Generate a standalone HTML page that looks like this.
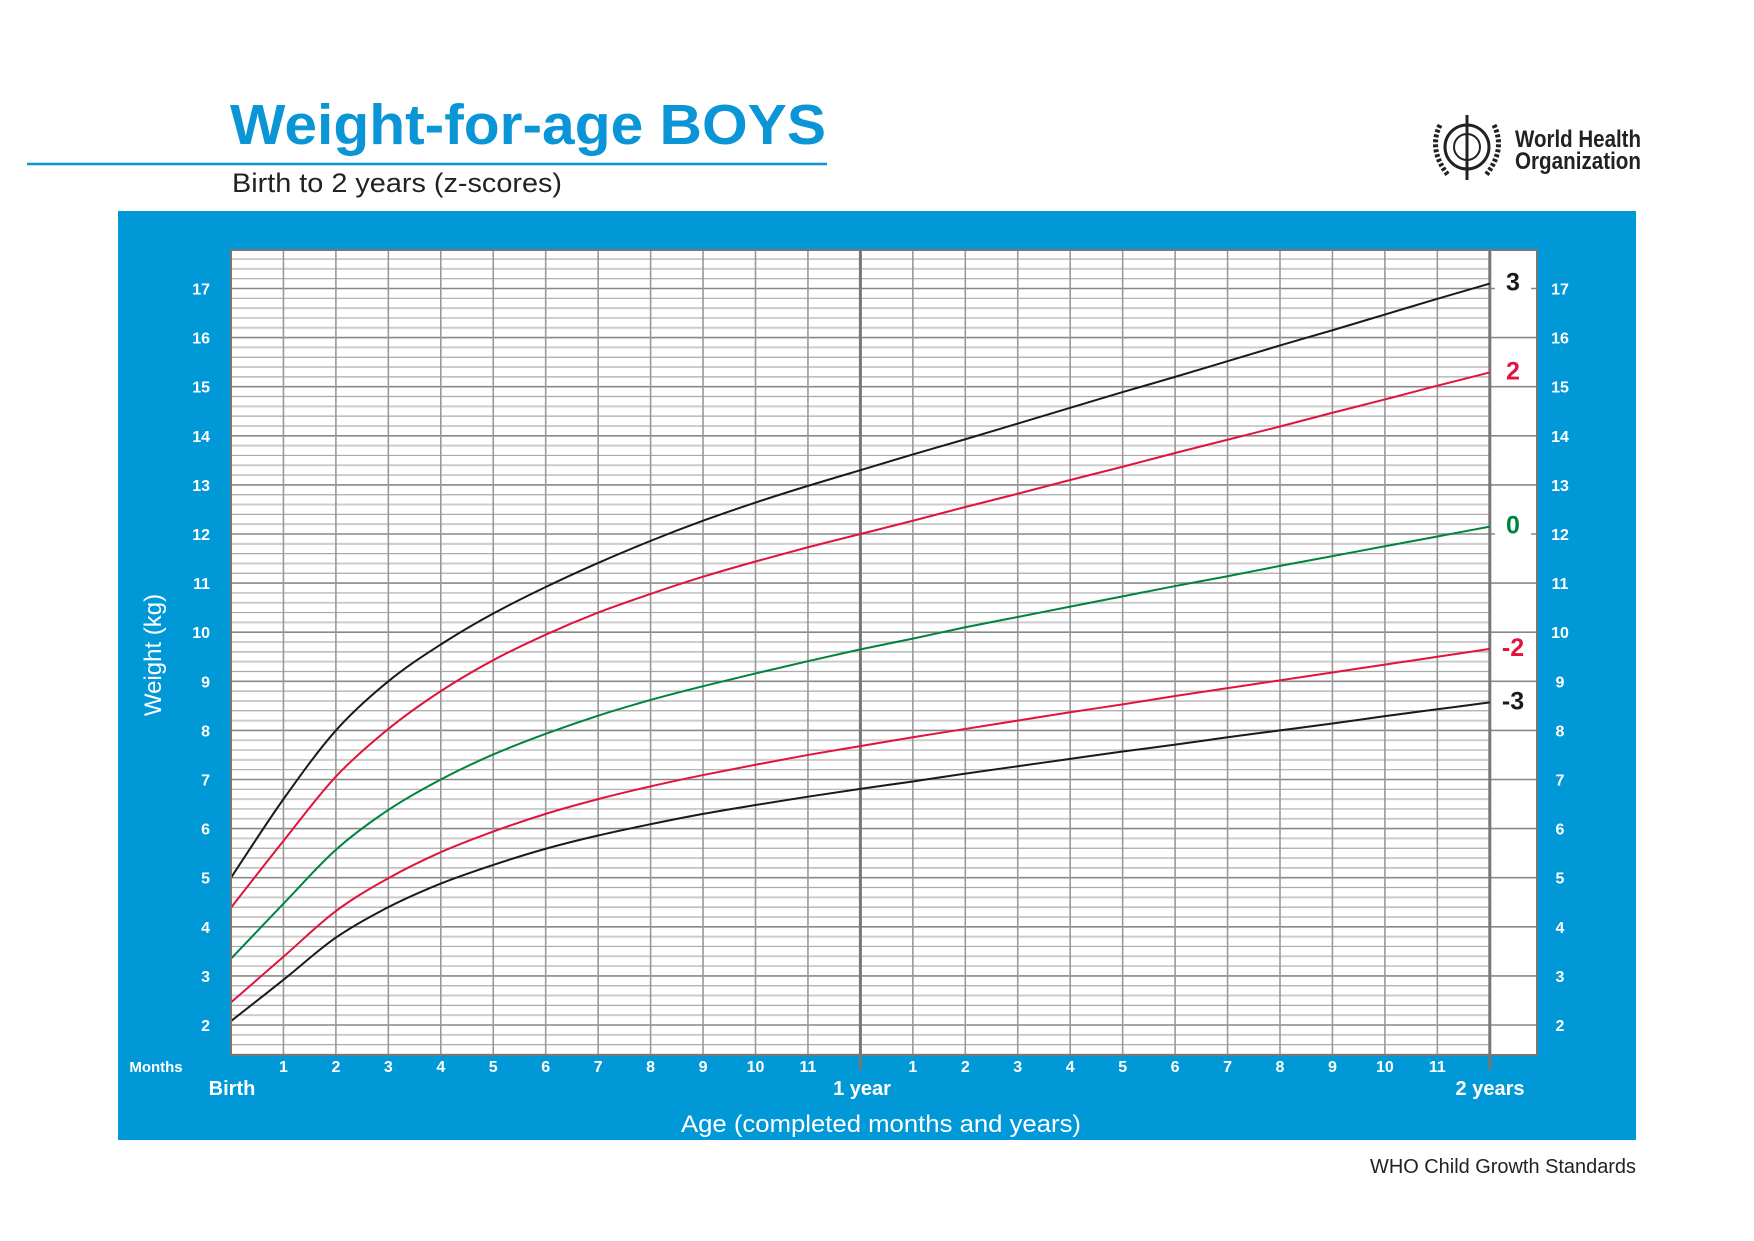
<!DOCTYPE html>
<html><head><meta charset="utf-8"><style>
html,body{margin:0;padding:0;background:#fff;}
svg{display:block;font-family:"Liberation Sans",sans-serif;}
</style></head><body>
<svg id="chart" width="1754" height="1241" viewBox="0 0 1754 1241">
<text x="230" y="144" font-size="57" font-weight="bold" fill="#0a96d6" textLength="596" lengthAdjust="spacingAndGlyphs">Weight-for-age BOYS</text>
<line x1="27" y1="164" x2="827" y2="164" stroke="#0a96d6" stroke-width="2.5"/>
<text x="232" y="192" font-size="27" fill="#222" textLength="330" lengthAdjust="spacingAndGlyphs">Birth to 2 years (z-scores)</text>
<g>
<circle cx="1467" cy="147" r="22" fill="none" stroke="#222" stroke-width="3"/>
<circle cx="1467" cy="147" r="13" fill="none" stroke="#222" stroke-width="2"/>
<line x1="1467" y1="115" x2="1467" y2="180" stroke="#222" stroke-width="3"/>
<path d="M1440 125 Q1428 150 1448 175 M1494 125 Q1506 150 1486 175" fill="none" stroke="#222" stroke-width="5" stroke-dasharray="3 2"/>
</g>
<text x="1515" y="147" font-size="24" font-weight="bold" fill="#222" textLength="126" lengthAdjust="spacingAndGlyphs">World Health</text>
<text x="1515" y="169" font-size="24" font-weight="bold" fill="#222" textLength="126" lengthAdjust="spacingAndGlyphs">Organization</text>
<rect x="118" y="211" width="1518" height="929" fill="#0098d6"/>
<rect x="231" y="250" width="1306" height="805" fill="#fff"/>
<g id="grid"></g>
<g id="curves"></g>
<g id="labels"></g>
<rect x="231" y="250" width="1306" height="805" fill="none" stroke="#777" stroke-width="2"/>
<text x="161" y="655" font-size="24" fill="#fff" text-anchor="middle" transform="rotate(-90 161 655)">Weight (kg)</text>
<text x="681" y="1132" font-size="24" fill="#fff" textLength="400" lengthAdjust="spacingAndGlyphs">Age (completed months and years)</text>
<text x="156" y="1072" font-size="15" font-weight="bold" fill="#fff" text-anchor="middle">Months</text>
<text x="232" y="1095" font-size="20" font-weight="bold" fill="#fff" text-anchor="middle">Birth</text>
<text x="862" y="1095" font-size="20" font-weight="bold" fill="#fff" text-anchor="middle">1 year</text>
<text x="1490" y="1095" font-size="20" font-weight="bold" fill="#fff" text-anchor="middle">2 years</text>
<text x="1370" y="1173" font-size="20" fill="#222" textLength="266" lengthAdjust="spacingAndGlyphs">WHO Child Growth Standards</text>
</svg>
<script>
const months = [0,1,2,3,4,5,6,7,8,9,10,11,12,13,14,15,16,17,18,19,20,21,22,23,24];
const zNeg3 = [2.08,2.92,3.78,4.40,4.88,5.26,5.59,5.86,6.09,6.30,6.48,6.65,6.81,6.96,7.12,7.27,7.42,7.57,7.71,7.86,8.00,8.14,8.29,8.43,8.57];
const zNeg2 = [2.46,3.39,4.32,4.99,5.52,5.94,6.30,6.60,6.86,7.09,7.30,7.50,7.68,7.86,8.03,8.20,8.37,8.53,8.70,8.86,9.02,9.18,9.34,9.50,9.66];
const z0 = [3.35,4.47,5.57,6.38,7.00,7.51,7.93,8.30,8.62,8.90,9.16,9.41,9.65,9.87,10.10,10.31,10.52,10.73,10.94,11.14,11.35,11.55,11.75,11.95,12.15];
const zPos2 = [4.39,5.75,7.06,8.03,8.80,9.43,9.95,10.40,10.78,11.13,11.44,11.73,12.00,12.27,12.55,12.82,13.10,13.37,13.65,13.92,14.19,14.47,14.74,15.02,15.29];
const zPos3 = [5.00,6.60,8.00,9.00,9.75,10.38,10.92,11.41,11.86,12.27,12.64,12.98,13.30,13.62,13.93,14.25,14.57,14.89,15.20,15.52,15.84,16.15,16.47,16.79,17.10];
const yTicks = [2,3,4,5,6,7,8,9,10,11,12,13,14,15,16,17];
const monthTicks = [1,2,3,4,5,6,7,8,9,10,11,1,2,3,4,5,6,7,8,9,10,11];
const seriesNames = ["3","2","0","-2","-3"];

const NS="http://www.w3.org/2000/svg";
const X0=231, PXM=52.45, Y2=1025, PXK=49.1, TOP=250, BOT=1055, XEND=1490, XR=1537;
const xs=m=>X0+m*PXM;
const ys=k=>Y2-(k-2)*PXK;
function mk(t,a,parent){const e=document.createElementNS(NS,t);for(const k in a)e.setAttribute(k,a[k]);parent.appendChild(e);return e;}
const grid=document.getElementById('grid');
for(let i=Math.ceil((2-(BOT-Y2)/PXK)*5);i<=Math.floor((2+(Y2-TOP)/PXK)*5);i++){
  const k=i/5, y=ys(k);
  if(y<TOP||y>BOT)continue;
  const major=i%5===0;
  const l=mk('line',{x1:X0,x2:major?XR:XEND,y1:y,y2:y,stroke:major?'#888':(i%2?'#ccc':'#aaa'),'stroke-width':major?1.6:(i%2?2:1.2)},grid);
  
  
}
for(let m=1;m<=24;m++){
  const x=xs(m);
  const l=mk('line',{x1:x,x2:x,y1:TOP,y2:(m===12||m===24)?1070:BOT,stroke:(m===12||m===24)?'#777':'#999','stroke-width':(m===12||m===24)?3:1.6},grid);
  
  
}
const curves=document.getElementById('curves');
const sets=[[zPos3,'#1a1a1a'],[zPos2,'#e0143c'],[z0,'#00843d'],[zNeg2,'#e0143c'],[zNeg3,'#1a1a1a']];
function pathFor(vals){
  const p=months.map((m,i)=>[xs(m),ys(vals[i])]);
  let d='M'+p[0][0]+' '+p[0][1];
  for(let i=0;i<p.length-1;i++){
    const p0=p[Math.max(0,i-1)],p1=p[i],p2=p[i+1],p3=p[Math.min(p.length-1,i+2)];
    const c1=[p1[0]+(p2[0]-p0[0])/6,p1[1]+(p2[1]-p0[1])/6];
    const c2=[p2[0]-(p3[0]-p1[0])/6,p2[1]-(p3[1]-p1[1])/6];
    d+=' C'+c1[0]+' '+c1[1]+' '+c2[0]+' '+c2[1]+' '+p2[0]+' '+p2[1];
  }
  return d;
}
const labels=document.getElementById('labels');
sets.forEach((s,i)=>{
  const p=mk('path',{d:pathFor(s[0]),fill:'none',stroke:s[1],'stroke-width':2},curves);
  
  
  const yEnd=ys(s[0][s[0].length-1]);
  const bg=mk('rect',{x:1495,y:yEnd-15,width:36,height:28,fill:'#fff'},labels);
  
  
  const t=mk('text',{x:1513,y:yEnd+7,'font-size':25,'font-weight':'bold',fill:s[1],'text-anchor':'middle'},labels);
  t.textContent=seriesNames[i];
  
  
});
yTicks.forEach(k=>{
  [[210,'end'],[1560,'middle']].forEach(([x,a],j)=>{
    const t=mk('text',{x:x,y:ys(k)+6,'font-size':16,'font-weight':'bold',fill:'#fff','text-anchor':a},labels);
    t.textContent=k;
    
    
  });
});
monthTicks.forEach((m,i)=>{
  const mm=i<11?i+1:i+2;
  const t=mk('text',{x:xs(mm),y:1072,'font-size':16,'font-weight':'bold',fill:'#fff','text-anchor':'middle'},labels);
  t.textContent=m;
  
  
});
</script>
</body></html>
